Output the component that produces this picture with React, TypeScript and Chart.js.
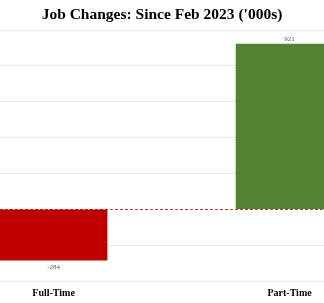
import React, { useEffect, useRef } from "react";
import { Chart, registerables } from "chart.js";

Chart.register(...registerables);

const categories = ["Full-Time", "Part-Time"];
const values = [-284, 921];
const barColors = ["#C00000", "#548235"];
const yTicks = [-400, -200, 0, 200, 400, 600, 800, 1000];
const titleText = "Job Changes: Since Feb 2023 ('000s)";

const labelsPlugin = {
  id: "valueLabels",
  beforeDatasetsDraw(chart: any) {
    const { ctx, chartArea } = chart;
    const y = chart.scales.y.getPixelForValue(0);
    ctx.save();
    ctx.strokeStyle = "#C0392B";
    ctx.lineWidth = 1;
    ctx.setLineDash([3, 2]);
    ctx.beginPath();
    ctx.moveTo(chartArea.left, Math.round(y) + 0.5);
    ctx.lineTo(chartArea.right, Math.round(y) + 0.5);
    ctx.stroke();
    ctx.restore();
  },
  afterDatasetsDraw(chart: any) {
    const { ctx } = chart;
    const meta = chart.getDatasetMeta(0);
    ctx.save();
    ctx.font = "7px 'Liberation Serif', serif";
    ctx.fillStyle = "#595959";
    ctx.textAlign = "center";
    meta.data.forEach((el: any, i: number) => {
      const v = values[i];
      if (v >= 0) {
        ctx.textBaseline = "bottom";
        ctx.fillText(String(v), el.x, el.y - 2);
      } else {
        ctx.textBaseline = "top";
        ctx.fillText(String(v), el.x, el.y + 3);
      }
    });
    ctx.restore();
  },
};

export default function App() {
  const ref = useRef<HTMLCanvasElement>(null);
  useEffect(() => {
    document.body.style.margin = "0";
    const chart = new Chart(ref.current!, {
      type: "bar",
      data: {
        datasets: [
          {
            data: values.map((v, i) => ({ x: i, y: v })),
            backgroundColor: barColors,
            barThickness: 107,
          },
        ],
      },
      options: {
        animation: false,
        responsive: false,
        maintainAspectRatio: false,
        layout: { padding: { left: 0, right: 0, top: 0, bottom: -2 } },
        plugins: {
          legend: { display: false },
          tooltip: { enabled: false },
          title: {
            display: true,
            text: titleText,
            color: "#000000",
            font: { family: "'Liberation Serif', serif", size: 15.5, weight: "bold" },
            padding: { top: 6, bottom: 5.4 },
          },
        },
        scales: {
          x: {
            type: "linear",
            min: -0.227,
            max: 1.146,
            offset: false,
            grid: { display: false, drawTicks: false },
            border: { display: false },
            afterBuildTicks: (scale: any) => {
              scale.ticks = categories.map((_, i) => ({ value: i }));
            },
            ticks: {
              padding: 6,
              color: "#000000",
              autoSkip: false,
              maxRotation: 0,
              font: { family: "'Liberation Serif', serif", size: 10, weight: "bold" },
              callback: (v: any) => categories[v] ?? "",
            },
          },
          y: {
            min: yTicks[0],
            max: yTicks[yTicks.length - 1],
            afterBuildTicks: (scale: any) => {
              scale.ticks = yTicks.map((v) => ({ value: v }));
            },
            grid: {
              drawTicks: false,
              lineWidth: 1,
              color: (c: any) => (c.tick && c.tick.value === 0 ? "rgba(0,0,0,0)" : "#E6E6E6"),
            },
            border: { display: false },
            ticks: { display: false },
          },
        },
      },
      plugins: [labelsPlugin],
    } as any);
    return () => chart.destroy();
  }, []);
  return (
    <div style={{ width: 324, height: 303 }}>
      <canvas ref={ref} width={324} height={303} style={{ display: "block" }} />
    </div>
  );
}
